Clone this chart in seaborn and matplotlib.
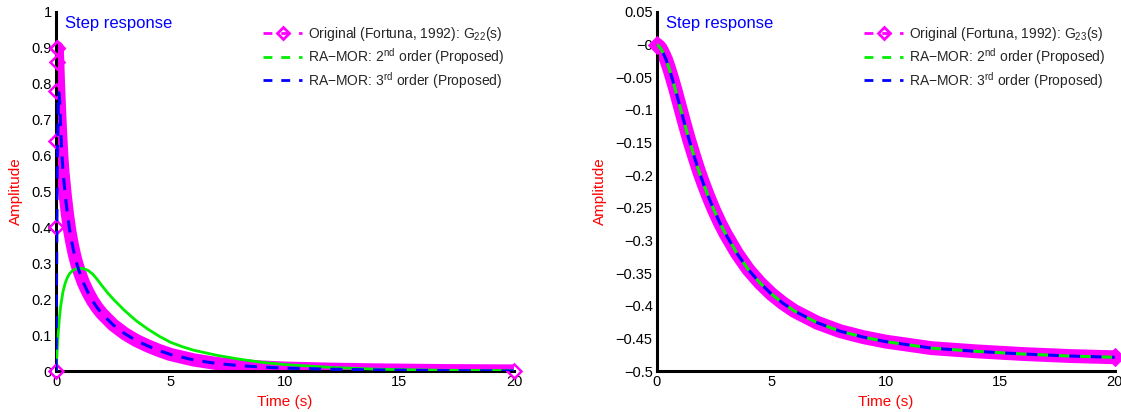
import numpy as np
import pandas as pd
import matplotlib
matplotlib.use("Agg")
import matplotlib.pyplot as plt
from matplotlib.lines import Line2D
from matplotlib.ticker import FuncFormatter
import seaborn as sns

# ---- data ----
# left panel, G22
g22_t = [0, 0.005, 0.01, 0.015, 0.02, 0.03, 0.05, 0.075, 0.1, 0.15, 0.2, 0.25, 0.3, 0.4, 0.5, 0.6,
         0.7, 0.8, 0.9, 1.0, 1.2, 1.4, 1.6, 1.8, 2.0, 2.5, 3, 3.5, 4, 4.5, 5, 6, 7, 8, 9, 10, 12,
         14, 17, 20]
g22_orig = [0, 0.40, 0.64, 0.78, 0.86, 0.90, 0.90, 0.86, 0.81, 0.73, 0.66, 0.60, 0.555, 0.49, 0.435,
            0.39, 0.355, 0.325, 0.30, 0.28, 0.245, 0.218, 0.195, 0.176, 0.16, 0.128, 0.104, 0.085,
            0.07, 0.057, 0.046, 0.031, 0.021, 0.015, 0.011, 0.008, 0.005, 0.003, 0.001, 0.0]
g22_t2 = [0, 0.02, 0.05, 0.1, 0.15, 0.2, 0.3, 0.4, 0.5, 0.6, 0.75, 0.9, 1.05, 1.2, 1.4, 1.6, 1.8,
          2.0, 2.25, 2.5, 2.75, 3, 3.5, 4, 4.5, 5, 5.5, 6, 7, 8, 9, 10, 12, 14, 17, 20]
g22_ord2 = [0, 0.025, 0.06, 0.11, 0.15, 0.18, 0.22, 0.245, 0.261, 0.272, 0.281, 0.285, 0.286, 0.285,
            0.28, 0.27, 0.255, 0.238, 0.218, 0.2, 0.184, 0.168, 0.14, 0.117, 0.097, 0.08, 0.068,
            0.058, 0.044, 0.033, 0.024, 0.018, 0.01, 0.005, 0.002, 0.001]
g22_t3 = [0, 0.02, 0.05, 0.1, 0.13, 0.16, 0.2, 0.25, 0.3, 0.4, 0.5, 0.6, 0.7, 0.8, 0.9, 1.0, 1.2,
          1.4, 1.6, 1.8, 2.0, 2.5, 3, 3.5, 4, 4.5, 5, 6, 7, 8, 9, 10, 12, 14, 17, 20]
g22_ord3 = [0, 0.25, 0.55, 0.74, 0.775, 0.75, 0.68, 0.61, 0.56, 0.49, 0.435, 0.39, 0.355, 0.325,
            0.30, 0.28, 0.245, 0.218, 0.195, 0.176, 0.16, 0.128, 0.104, 0.085, 0.07, 0.057, 0.046,
            0.031, 0.021, 0.015, 0.011, 0.008, 0.005, 0.003, 0.001, 0.0]

# right panel, G23
g23_t = [0, 0.1, 0.2, 0.3, 0.4, 0.5, 0.6, 0.7, 0.8, 0.9, 1.0, 1.2, 1.4, 1.6, 1.8, 2.0, 2.25, 2.5,
         2.75, 3, 3.5, 4, 4.5, 5, 5.5, 6, 7, 8, 9, 10, 12, 14, 16, 18, 20]
g23_orig = [0, -0.003, -0.008, -0.015, -0.023, -0.033, -0.044, -0.056, -0.068, -0.081, -0.094,
            -0.12, -0.145, -0.168, -0.19, -0.21, -0.233, -0.254, -0.273, -0.29, -0.32, -0.345,
            -0.365, -0.382, -0.396, -0.408, -0.426, -0.439, -0.448, -0.455, -0.465, -0.47, -0.474,
            -0.477, -0.479]
g23_ord2 = [0, -0.003, -0.008, -0.015, -0.023, -0.033, -0.044, -0.056, -0.068, -0.081, -0.094,
            -0.12, -0.145, -0.168, -0.19, -0.21, -0.233, -0.254, -0.273, -0.29, -0.32, -0.345,
            -0.365, -0.382, -0.396, -0.408, -0.426, -0.439, -0.448, -0.455, -0.465, -0.47, -0.474,
            -0.477, -0.479]
g23_ord3 = [0, -0.003, -0.008, -0.015, -0.023, -0.033, -0.044, -0.056, -0.068, -0.081, -0.094,
            -0.12, -0.145, -0.168, -0.19, -0.21, -0.233, -0.254, -0.273, -0.29, -0.32, -0.345,
            -0.365, -0.382, -0.396, -0.408, -0.426, -0.439, -0.448, -0.455, -0.465, -0.47, -0.474,
            -0.477, -0.479]

labels_22 = ["Original (Fortuna, 1992): G$_{22}$(s)",
             "RA\u2212MOR: 2$^{nd}$ order (Proposed)",
             "RA\u2212MOR: 3$^{rd}$ order (Proposed)"]
labels_23 = ["Original (Fortuna, 1992): G$_{23}$(s)",
             "RA\u2212MOR: 2$^{nd}$ order (Proposed)",
             "RA\u2212MOR: 3$^{rd}$ order (Proposed)"]

sns.set_style("white")
plt.rcParams['font.family'] = ['Liberation Sans', 'DejaVu Sans']
plt.rcParams['mathtext.fontset'] = 'custom'
plt.rcParams['mathtext.rm'] = 'Liberation Sans'
plt.rcParams['mathtext.it'] = 'Liberation Sans'

MAG = "#ff00ff"
GRN = "#00ee00"
BLU = "#0000ff"


def fmt(v, p):
    s = "%g" % round(v, 3)
    return s.replace("-", "\u2212")


def style_axes(ax, ylim, yticks, leg_labels):
    ax.set_xlim(0, 20)
    ax.set_ylim(*ylim)
    ax.set_xticks([0, 5, 10, 15, 20])
    ax.set_yticks(yticks)
    ax.yaxis.set_major_formatter(FuncFormatter(fmt))
    ax.xaxis.set_major_formatter(FuncFormatter(fmt))
    for s in ["top", "right"]:
        ax.spines[s].set_visible(False)
    for s in ["left", "bottom"]:
        ax.spines[s].set_linewidth(2.2)
        ax.spines[s].set_color("black")
    ax.tick_params(direction="in", length=5, width=2, labelsize=10.5, colors="black", pad=3)
    ax.set_xlabel("Time (s)", color="red", fontsize=11, labelpad=4)
    ax.set_ylabel("Amplitude", color="red", fontsize=11, labelpad=6)
    ax.text(0.02, 0.99, "Step response", color=BLU, fontsize=12, transform=ax.transAxes,
            va="top", ha="left")
    handles = [Line2D([], [], color=MAG, ls=(0, (3.2, 3.2)), lw=2, marker="D", ms=6,
                      mfc="none", mew=2),
               Line2D([], [], color=GRN, ls=(0, (3.2, 3.2)), lw=2),
               Line2D([], [], color=BLU, ls=(0, (3.2, 3.2)), lw=2)]
    ax.legend(handles, leg_labels, loc="upper right", bbox_to_anchor=(1.0, 0.99), frameon=False,
              fontsize=10, handlelength=2.8, handletextpad=0.4, labelspacing=0.2,
              borderaxespad=0.3)


fig = plt.figure(figsize=(11.21, 4.12), dpi=100)
ax1 = fig.add_axes([0.05, 0.0995, 0.4085, 0.8715])
ax2 = fig.add_axes([0.586, 0.0995, 0.4085, 0.8715])

# left panel
sns.lineplot(x=g22_t[4:], y=g22_orig[4:], ax=ax1, color=MAG, lw=9.5, sort=False,
             estimator=None, solid_capstyle="butt", zorder=2)
sns.lineplot(x=g22_t[:7] + g22_t[-1:], y=g22_orig[:7] + g22_orig[-1:], ax=ax1, color=MAG,
             sort=False, estimator=None, marker="D", ms=7, mfc="none", mec=MAG, mew=1.8,
             linestyle="none", zorder=3, clip_on=False)
sns.lineplot(x=g22_t2, y=g22_ord2, ax=ax1, color=GRN, lw=2, sort=False, estimator=None, zorder=4)
sns.lineplot(x=g22_t3, y=g22_ord3, ax=ax1, color=BLU, lw=2.2, sort=False, estimator=None,
             linestyle=(0, (4, 3)), zorder=5)
style_axes(ax1, (0, 1), np.arange(0, 1.01, 0.1), labels_22)

# right panel
sns.lineplot(x=g23_t, y=g23_orig, ax=ax2, color=MAG, lw=10, sort=False, estimator=None,
             solid_capstyle="butt", zorder=2)
sns.lineplot(x=[g23_t[0], g23_t[-1]], y=[g23_orig[0], g23_orig[-1]], ax=ax2, color=MAG,
             marker="D", ms=9, mfc=MAG, mec=MAG, linestyle="none", zorder=3, clip_on=False)
sns.lineplot(x=g23_t, y=g23_ord2, ax=ax2, color=GRN, lw=2.2, sort=False, estimator=None,
             linestyle=(0, (3.5, 3.5)), zorder=4)
sns.lineplot(x=g23_t, y=g23_ord3, ax=ax2, color=BLU, lw=2.2, sort=False, estimator=None,
             linestyle=(3.5, (3.5, 3.5)), zorder=5)
style_axes(ax2, (-0.5, 0.05), np.arange(-0.5, 0.051, 0.05), labels_23)

fig.savefig("out.png", dpi=100)
